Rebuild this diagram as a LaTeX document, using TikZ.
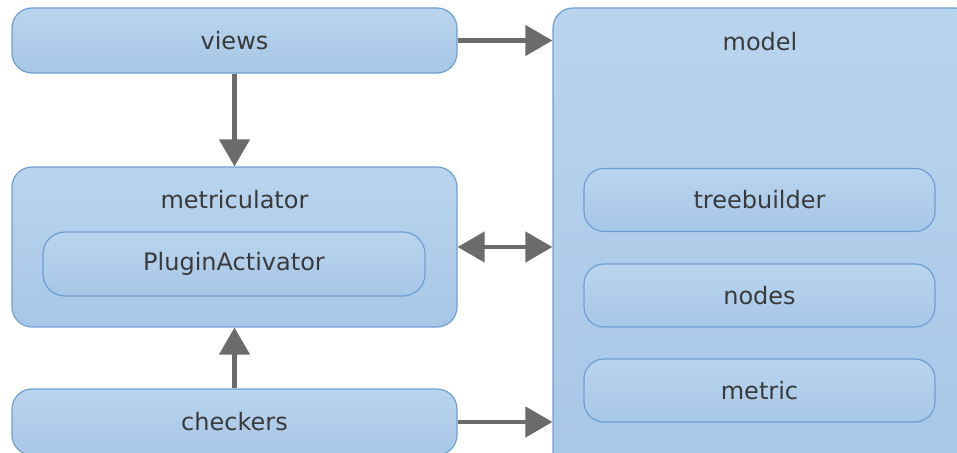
\documentclass[tikz,border=0pt]{standalone}
\usepackage{fontspec}
\usepackage{xcolor}
\usepackage{tikz}
\usetikzlibrary{positioning,arrows.meta}
\newfontfamily\pkgfont{DejaVu Sans}
\definecolor{pkgtop}{HTML}{B9D4EE}
\definecolor{pkgbot}{HTML}{A7C7E7}
\definecolor{pkgline}{HTML}{6E9FD2}
\definecolor{pkgtext}{HTML}{3A3A3A}
\definecolor{deparrow}{HTML}{6B6B6B}

\begin{document}
\begin{tikzpicture}[
    x=1pt, y=-1pt,
    pkg/.style={rectangle, draw=pkgline, line width=1.2pt, top color=pkgtop, bottom color=pkgbot, rounded corners=20pt, inner sep=0pt, font=\pkgfont\fontsize{24}{28}\selectfont, text=pkgtext},
    wide/.style={pkg, minimum width=445pt, minimum height=65pt},
    inner/.style={pkg, minimum width=351pt, minimum height=63pt},
    title/.style={inner sep=0pt, font=\pkgfont\fontsize{24}{28}\selectfont, text=pkgtext},
    dep/.style={draw=deparrow, line width=4.5pt, -{Triangle[length=27pt, width=30pt]}},
    bidep/.style={draw=deparrow, line width=4.5pt, {Triangle[length=27pt, width=30pt]}-{Triangle[length=27pt, width=30pt]}},
]
\useasboundingbox (0,0) rectangle (957,452);
\clip (0,0) rectangle (957,452);

% Left column
\node[wide] (views) at (234.5,40.5) {views};
\node[pkg, minimum width=445pt, minimum height=160pt] (metricbox) at (234.5,247) {};
\node[title] (metrictitle) at (234.5,200) {metriculator};
\node[pkg, minimum width=382pt, minimum height=64pt, rounded corners=22pt] (plugin) at (234,264) {PluginActivator};
\node[pkg, minimum width=445pt, minimum height=66pt] (checkers) at (234.5,422) {checkers};

% Model package
\node[pkg, minimum width=422pt, minimum height=467pt] (model) at (764,241.5) {};
\node[title] (modeltitle) at (760,42) {model};
\node[inner] (treebuilder) at (759.5,200) {treebuilder};
\node[inner] (nodes) at (759.5,295.5) {nodes};
\node[inner] (metric) at (759.5,390.5) {metric};

% Dependencies
\draw[dep] (views.east) -- (views.east -| model.west);
\draw[dep] (views.south) -- (metricbox.north);
\draw[bidep] (metricbox.east) -- (metricbox.east -| model.west);
\draw[dep] (checkers.north) -- (metricbox.south);
\draw[dep] (checkers.east) -- (checkers.east -| model.west);

\end{tikzpicture}
\end{document}
